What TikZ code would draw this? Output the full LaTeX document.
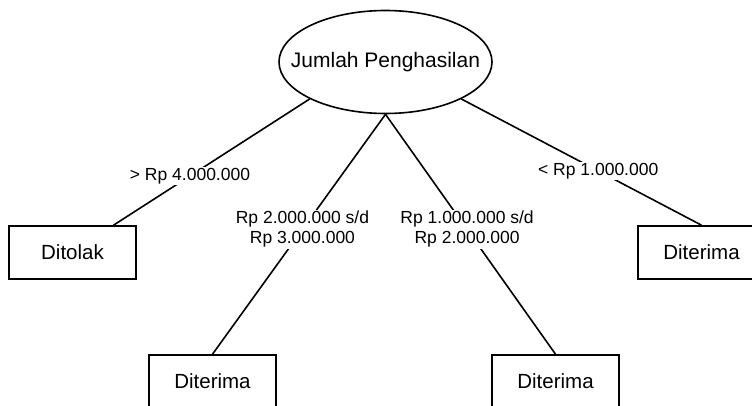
\documentclass[tikz,border=0pt]{standalone}
\usepackage{fontspec}
\setmainfont{Liberation Sans}
\usetikzlibrary{shapes.geometric}

\tikzset{
  kotak/.style={draw, minimum width=127pt, minimum height=53pt, inner sep=0pt, font=\fontsize{20.5}{24}\selectfont},
  syarat/.style={fill=white, inner sep=1.5pt, align=center, font=\fontsize{17.5}{20}\selectfont},
}

\begin{document}
\begin{tikzpicture}[x=1pt, y=-1pt, line width=1.6pt]
    \useasboundingbox (0,0) rectangle (752,406);

    % the root of the tree
    \node[ellipse, draw, minimum width=213pt, minimum height=103pt, inner xsep=-20pt, inner ysep=0pt,
          font=\fontsize{21}{24}\selectfont] (akar) at (385.5,62) {Jumlah Penghasilan};

    % these are the leaves
    \node[kotak] (ditolak) at (72.5,252.5) {Ditolak};
    \node[kotak] (terimaA) at (212.5,381.5) {Diterima};
    \node[kotak] (terimaB) at (555.5,381.5) {Diterima};
    \node[kotak] (terimaC) at (701.5,252.5) {Diterima};

    \draw (akar.206) -- node[syarat, pos=0.61] {> Rp 4.000.000} ([xshift=41pt]ditolak.north);
    \draw (akar.south) -- node[syarat, pos=0.48] {Rp 2.000.000 s/d\\Rp 3.000.000} (terimaA.north);
    \draw (akar.south) -- node[syarat, pos=0.48] {Rp 1.000.000 s/d\\Rp 2.000.000} (terimaB.north);
    \draw (akar.334) -- node[syarat, pos=0.57] {< Rp 1.000.000} (terimaC.north);

\end{tikzpicture}
\end{document}
